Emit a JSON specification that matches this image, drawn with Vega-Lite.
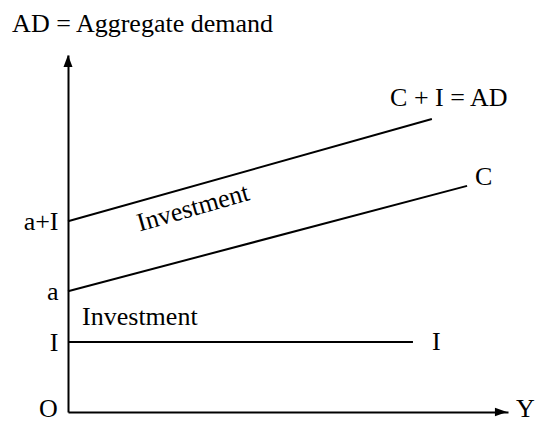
{
  "$schema": "https://vega.github.io/schema/vega-lite/v6.json",
  "width": 440,
  "height": 357,
  "autosize": "none",
  "padding": {"left": 68, "top": 55, "right": 29, "bottom": 11},
  "background": "white",
  "config": {"view": {"stroke": null}},
  "datasets": {
    "lines": [
      {"series": "I", "x": 0, "y": 2.0},
      {"series": "I", "x": 7.84, "y": 2.0},
      {"series": "C", "x": 0, "y": 3.45},
      {"series": "C", "x": 9.07, "y": 6.46},
      {"series": "C+I", "x": 0, "y": 5.45},
      {"series": "C+I", "x": 8.27, "y": 8.37}
    ],
    "labels": [
      {"text": "AD = Aggregate demand", "x": -1.27, "y": 11.09, "kind": "flat"},
      {"text": "C + I = AD", "x": 7.32, "y": 8.97, "kind": "flat"},
      {"text": "C", "x": 9.25, "y": 6.71, "kind": "flat"},
      {"text": "I", "x": 8.27, "y": 2.0, "kind": "flat"},
      {"text": "Y", "x": 10.18, "y": 0.08, "kind": "flat"},
      {"text": "Investment", "x": 0.32, "y": 2.71, "kind": "flat"},
      {"text": "Investment", "x": 2.84, "y": 5.83, "kind": "tilted"},
      {"text": "O", "x": -0.23, "y": 0.08, "kind": "origin"}
    ],
    "arrows": [
      {"dir": "up", "x": 0, "y": 10.03},
      {"dir": "right", "x": 9.84, "y": 0}
    ]
  },
  "layer": [
    {
      "data": {"name": "lines"},
      "mark": {"type": "line", "color": "black", "strokeWidth": 2},
      "encoding": {
        "x": {
          "field": "x", "type": "quantitative",
          "scale": {"domain": [0, 10], "nice": false, "zero": false},
          "axis": {"labels": false, "ticks": false, "grid": false, "title": null, "domainColor": "black", "domainWidth": 2}
        },
        "y": {
          "field": "y", "type": "quantitative",
          "scale": {"domain": [0, 10.2], "nice": false, "zero": false},
          "axis": {
            "values": [2, 3.45, 5.45],
            "labelExpr": "datum.value == 2 ? 'I' : datum.value == 3.45 ? 'a' : 'a+I'",
            "ticks": false, "grid": false, "title": null,
            "domainColor": "black", "domainWidth": 2,
            "labelFont": "Liberation Serif", "labelFontSize": 26, "labelColor": "black",
            "labelPadding": 10, "labelFlush": false, "labelOverlap": false
          }
        },
        "detail": {"field": "series"}
      }
    },
    {
      "data": {"name": "labels"},
      "transform": [{"filter": "datum.kind == 'flat'"}],
      "mark": {"type": "text", "font": "Liberation Serif", "fontSize": 26, "color": "black", "align": "left", "baseline": "middle"},
      "encoding": {
        "x": {"field": "x", "type": "quantitative"},
        "y": {"field": "y", "type": "quantitative"},
        "text": {"field": "text"}
      }
    },
    {
      "data": {"name": "labels"},
      "transform": [{"filter": "datum.kind == 'origin'"}],
      "mark": {"type": "text", "font": "Liberation Serif", "fontSize": 26, "color": "black", "align": "right", "baseline": "middle"},
      "encoding": {
        "x": {"field": "x", "type": "quantitative"},
        "y": {"field": "y", "type": "quantitative"},
        "text": {"field": "text"}
      }
    },
    {
      "data": {"name": "labels"},
      "transform": [{"filter": "datum.kind == 'tilted'"}],
      "mark": {"type": "text", "font": "Liberation Serif", "fontSize": 26, "color": "black", "align": "center", "baseline": "middle", "angle": -16},
      "encoding": {
        "x": {"field": "x", "type": "quantitative"},
        "y": {"field": "y", "type": "quantitative"},
        "text": {"field": "text"}
      }
    },
    {
      "data": {"name": "arrows"},
      "transform": [{"filter": "datum.dir == 'up'"}],
      "mark": {"type": "point", "shape": "M0,-1L0.75,1L-0.75,1Z", "size": 144, "filled": true, "color": "black", "opacity": 1},
      "encoding": {
        "x": {"field": "x", "type": "quantitative"},
        "y": {"field": "y", "type": "quantitative"}
      }
    },
    {
      "data": {"name": "arrows"},
      "transform": [{"filter": "datum.dir == 'right'"}],
      "mark": {"type": "point", "shape": "M1,0L-1,-0.7L-1,0.7Z", "size": 144, "filled": true, "color": "black", "opacity": 1},
      "encoding": {
        "x": {"field": "x", "type": "quantitative"},
        "y": {"field": "y", "type": "quantitative"}
      }
    }
  ]
}
